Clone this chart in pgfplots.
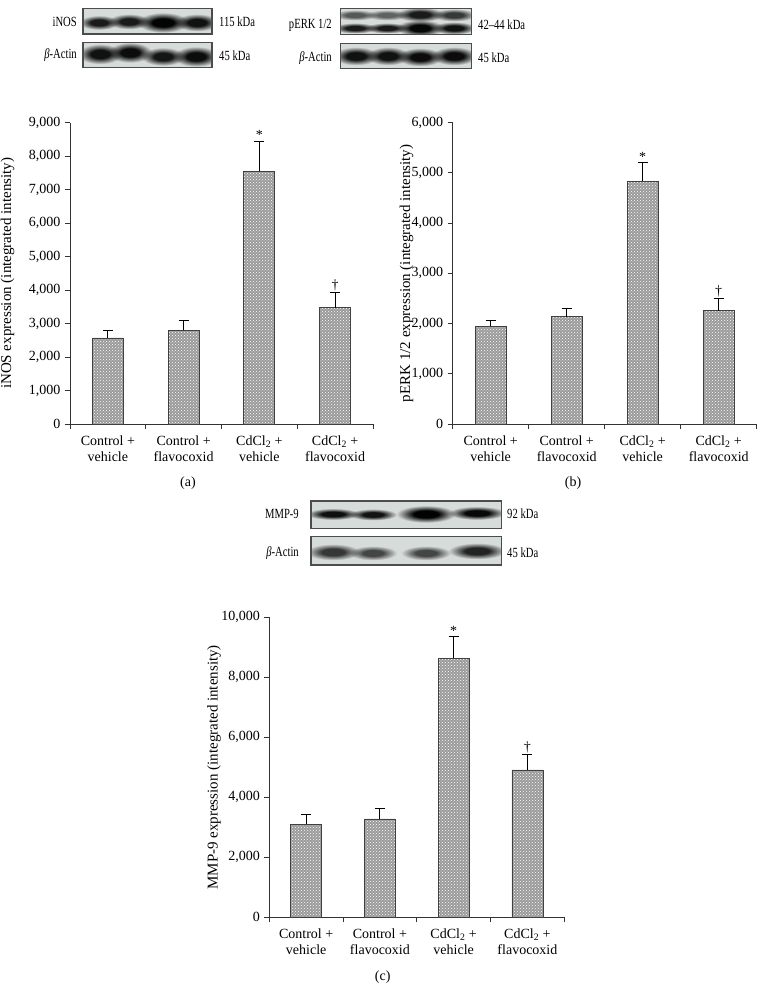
\documentclass[border=0pt]{standalone}
\usepackage{pgfplots}
\pgfplotsset{compat=1.18}
\usepackage{fontspec}
\setmainfont{Liberation Serif}
\usetikzlibrary{patterns}
\definecolor{blotbg}{HTML}{D6DCDA}
\definecolor{barfill}{HTML}{9A9A9A}
\definecolor{axisgray}{HTML}{333333}
\colorlet{bandc}{black}
\pgfdeclareradialshading[bandc]{band}{\pgfpoint{0bp}{0bp}}{color(0bp)=(bandc);color(10bp)=(bandc);color(24bp)=(white);color(50bp)=(white)}

\newcommand{\band}[5]{\colorlet{bandc}{black!#5}\shade[shading=band, blend mode=multiply] (#1pt,-#2pt) ellipse (#3pt and #4pt);}
\newcommand{\blotbox}[4]{\fill[blotbg] (#1pt,-#2pt) rectangle (#3pt,-#4pt);\clip (#1pt,-#2pt) rectangle (#3pt,-#4pt);}
\newcommand{\blotframe}[4]{\draw[black!70, line width=1.2pt] (#1pt,-#2pt) rectangle (#3pt,-#4pt);}
\newcommand{\blotlab}[4]{\node[anchor=#3, inner sep=0pt, font=\fontsize{14}{15}\selectfont] at (#1pt,-#2pt) {\scalebox{0.76}[1]{#4}};}

\pgfplotsset{
  barpanel/.style={
    scale only axis,
    axis x line*=bottom, axis y line*=left,
    axis line style={axisgray, line width=0.9pt},
    xmin=-0.5, xmax=3.5, ymin=0,
    xtick={-0.5,0.5,1.5,2.5,3.5}, xticklabels={},
    extra x ticks={0,1,2,3},
    extra x tick labels={{Control +\\vehicle},{Control +\\flavocoxid},{CdCl\textsubscript{2} +\\vehicle},{CdCl\textsubscript{2} +\\flavocoxid}},
    extra x tick style={major tick length=0pt},
    tick align=outside, major tick length=5pt,
    tick style={axisgray, line width=0.9pt},
    x tick label style={align=center, font=\fontsize{14}{16}\selectfont, yshift=-8pt},
    y tick label style={font=\fontsize{14}{15}\selectfont, xshift=-1pt},
    scaled y ticks=false,
    /pgf/number format/1000 sep={,},
    /pgf/number format/assume math mode=true,
    ylabel style={font=\fontsize{15}{16}\selectfont, anchor=center, inner sep=0pt},
  },
  barstyle/.style={
    ybar, bar width=31pt, draw=black!75, line width=0.8pt, fill=barfill,
    postaction={pattern=crosshatch dots, pattern color=white},
    error bars/.cd, y dir=plus, y explicit,
    error bar style={black, line width=0.9pt},
    error mark options={rotate=90, mark size=5pt, line width=0.9pt, black},
  },
}

\begin{document}
\begin{tikzpicture}
\useasboundingbox (0,0) rectangle (769pt,-1003pt);

% ---------- blot (a) ----------
\begin{scope}
\blotbox{83}{8.3}{212}{34}
\band{99}{22.5}{21}{7.5}{88}
\band{129}{21.5}{22}{8}{88}
\band{163}{22.5}{27}{10.5}{98}
\band{197}{22.5}{23}{9}{92}
\end{scope}
\blotframe{83}{8.3}{212}{34}
\begin{scope}
\blotbox{83}{42.3}{212}{67.3}
\band{100}{54}{23}{10.5}{92}
\band{130}{52.5}{23}{10.5}{94}
\band{163}{56.5}{23}{9.5}{90}
\band{196}{56.5}{24}{10.5}{94}
\end{scope}
\blotframe{83}{42.3}{212}{67.3}
\blotlab{77}{22}{east}{iNOS}
\blotlab{77}{55}{east}{\textit{β}-Actin}
\blotlab{219}{22}{west}{115 kDa}
\blotlab{219}{56}{west}{45 kDa}

% ---------- blot (b) ----------
\begin{scope}
\blotbox{340.7}{8.3}{471.7}{34.3}
\band{355}{15}{23}{5.5}{60}
\band{387}{15}{23}{5.5}{55}
\band{420}{14.5}{25}{7.5}{88}
\band{454}{15}{23}{6.5}{74}
\band{355}{28}{23}{5.5}{88}
\band{387}{28}{23}{5.5}{88}
\band{420}{28}{25}{8.5}{97}
\band{454}{28}{23}{6.5}{92}
\end{scope}
\blotframe{340.7}{8.3}{471.7}{34.3}
\begin{scope}
\blotbox{340.7}{43.3}{471.7}{68.3}
\band{356}{56}{24}{9.5}{92}
\band{388}{56}{23}{9.5}{92}
\band{420}{57}{24}{9.5}{94}
\band{454}{56}{24}{9.5}{94}
\end{scope}
\blotframe{340.7}{43.3}{471.7}{68.3}
\blotlab{332}{25}{east}{pERK 1/2}
\blotlab{332}{58}{east}{\textit{β}-Actin}
\blotlab{478}{25}{west}{42–44 kDa}
\blotlab{478}{58}{west}{45 kDa}

% ---------- blot (c) ----------
\begin{scope}
\blotbox{311}{501}{501.7}{528.3}
\band{333}{514}{28}{6}{93}
\band{373}{514.5}{25}{6}{91}
\band{426}{514}{31}{9}{99}
\band{477}{513}{30}{7}{96}
\end{scope}
\blotframe{311}{501}{501.7}{528.3}
\begin{scope}
\blotbox{311}{536.7}{501.7}{565}
\band{333}{552}{28}{8.5}{75}
\band{373}{553}{25}{7.5}{68}
\band{426}{553}{26}{7.5}{68}
\band{477}{551}{30}{8.5}{84}
\end{scope}
\blotframe{311}{536.7}{501.7}{565}
\blotlab{299}{514}{east}{MMP-9}
\blotlab{299}{553}{east}{\textit{β}-Actin}
\blotlab{507}{514}{west}{92 kDa}
\blotlab{507}{553}{west}{45 kDa}

% ---------- panel (a) ----------
\begin{axis}[barpanel, at={(70pt,-424pt)}, anchor=south west,
  width=303pt, height=301.3pt, ymax=9000, ytick distance=1000,
  ylabel={iNOS expression (integrated intensity)},
  ylabel style={at={(axis description cs:-0.206,0.5)}}]
\addplot[barstyle] coordinates {
  (0,2570) +- (0,236)
  (1,2800) +- (0,295)
  (2,7550) +- (0,898)
  (3,3470) +- (0,460)
};
\node[anchor=south, inner sep=1pt, font=\fontsize{14}{15}\selectfont] at (axis cs:2,8448) {*};
\node[anchor=south, inner sep=1pt, font=\fontsize{14}{15}\selectfont] at (axis cs:3,3930) {†};
\end{axis}
\node[font=\fontsize{14}{15}\selectfont] at (188pt,-483pt) {(a)};

% ---------- panel (b) ----------
\begin{axis}[barpanel, at={(452.7pt,-424pt)}, anchor=south west,
  width=304pt, height=301.3pt, ymax=6000, ytick distance=1000,
  ylabel={pERK 1/2 expression (integrated intensity)},
  ylabel style={at={(axis description cs:-0.152,0.5)}}]
\addplot[barstyle] coordinates {
  (0,1945) +- (0,113)
  (1,2138) +- (0,159)
  (2,4834) +- (0,378)
  (3,2258) +- (0,252)
};
\node[anchor=south, inner sep=1pt, font=\fontsize{14}{15}\selectfont] at (axis cs:2,5212) {*};
\node[anchor=south, inner sep=1pt, font=\fontsize{14}{15}\selectfont] at (axis cs:3,2510) {†};
\end{axis}
\node[font=\fontsize{14}{15}\selectfont] at (573pt,-483pt) {(b)};

% ---------- panel (c) ----------
\begin{axis}[barpanel, at={(269.3pt,-917.3pt)}, anchor=south west,
  width=295pt, height=300pt, ymax=10000, ytick distance=2000,
  ylabel={MMP-9 expression (integrated intensity)},
  ylabel style={at={(axis description cs:-0.187,0.5)}}]
\addplot[barstyle] coordinates {
  (0,3100) +- (0,333)
  (1,3278) +- (0,344)
  (2,8633) +- (0,734)
  (3,4911) +- (0,511)
};
\node[anchor=south, inner sep=1pt, font=\fontsize{14}{15}\selectfont] at (axis cs:2,9367) {*};
\node[anchor=south, inner sep=1pt, font=\fontsize{14}{15}\selectfont] at (axis cs:3,5422) {†};
\end{axis}
\node[font=\fontsize{14}{15}\selectfont] at (382.7pt,-977pt) {(c)};
\end{tikzpicture}
\end{document}
